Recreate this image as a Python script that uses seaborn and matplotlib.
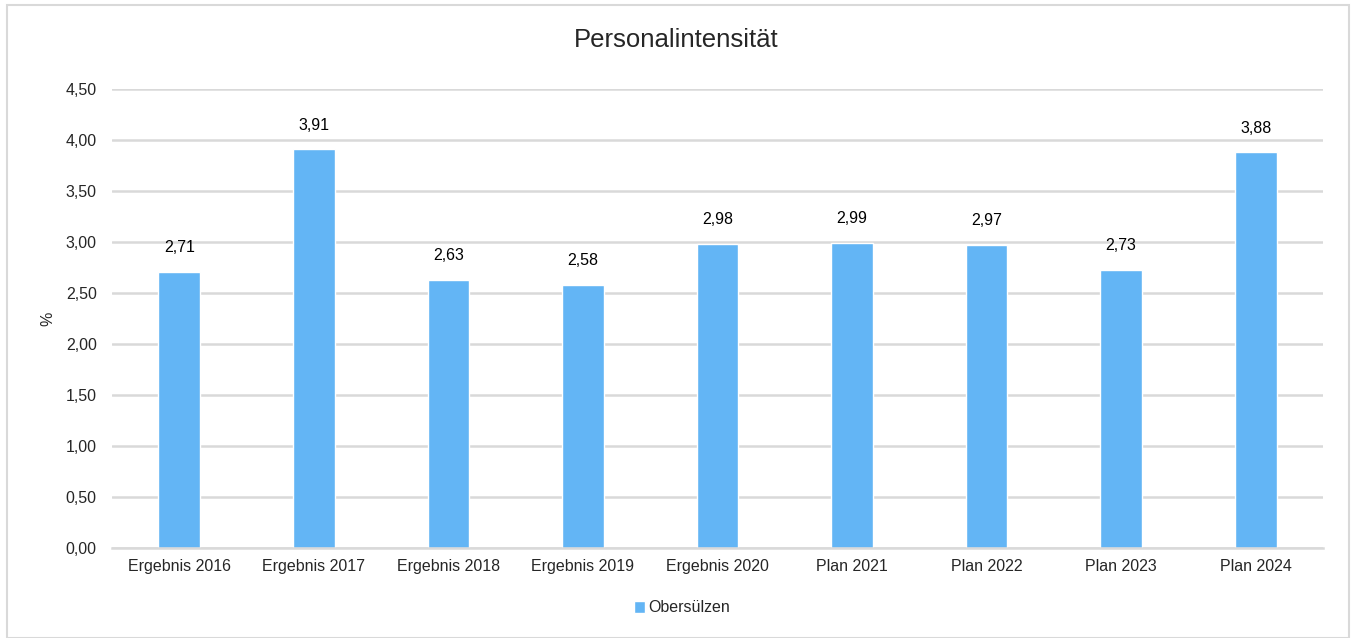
import matplotlib
matplotlib.use("Agg")
import matplotlib.pyplot as plt
import seaborn as sns
import pandas as pd
from matplotlib.patches import Rectangle

categories = ["Ergebnis 2016", "Ergebnis 2017", "Ergebnis 2018", "Ergebnis 2019",
              "Ergebnis 2020", "Plan 2021", "Plan 2022", "Plan 2023", "Plan 2024"]
values = [2.71, 3.91, 2.63, 2.58, 2.98, 2.99, 2.97, 2.73, 3.88]
series_name = "Obersülzen"
y_ticks = [0.0, 0.5, 1.0, 1.5, 2.0, 2.5, 3.0, 3.5, 4.0, 4.5]

bar_color = "#63B5F5"
grid_color = "#D9D9D9"
text_color = "#000000"

sns.set_style("white")
plt.rcParams['font.family'] = ['Liberation Sans', 'DejaVu Sans']

df = pd.DataFrame({"Kategorie": categories, "Wert": values})

fig = plt.figure(figsize=(13.53, 6.38), dpi=100)
ax = fig.add_axes([112 / 1353, 1 - 548 / 638, (1323 - 112) / 1353, (548 - 89) / 638])

sns.barplot(data=df, x="Kategorie", y="Wert", color=bar_color, width=0.31,
            saturation=1, ax=ax, label=series_name)

ax.set_ylim(0, 4.5)
ax.set_yticks(y_ticks)
ax.set_yticklabels([f"{t:.2f}".replace(".", ",") for t in y_ticks], fontsize=11.5)
ax.set_xlim(-0.5, len(categories) - 0.5)
ax.tick_params(axis="x", labelsize=11.5, length=0, pad=8)
ax.tick_params(axis="y", length=0, pad=11)
ax.yaxis.grid(True, color=grid_color, linewidth=1.8)
ax.set_axisbelow(True)
for s in ["top", "right", "left"]:
    ax.spines[s].set_visible(False)
ax.spines["bottom"].set_color(grid_color)
ax.spines["bottom"].set_linewidth(1.8)

ax.set_xlabel("")
ax.set_ylabel("%", fontsize=11.5)
ax.yaxis.set_label_coords((55 - 112) / 1211, 0.5)

for p, v in zip(ax.patches, values):
    ax.annotate(f"{v:.2f}".replace(".", ","), (p.get_x() + p.get_width() / 2, v),
                xytext=(0, 12), textcoords="offset points", ha="center", va="bottom",
                fontsize=11.5, color=text_color)

fig.text(0.5, 1 - 40 / 638, "Personalintensität", ha="center", va="center", fontsize=18.5)

leg = ax.legend(loc="center", bbox_to_anchor=((682 - 112) / 1211, (548 - 608) / (548 - 89)),
                frameon=False, fontsize=11.5, handlelength=0.7, handleheight=0.7,
                handletextpad=0.2)

fig.patches.append(Rectangle((7 / 1353, 0), 1342 / 1353, 1 - 5 / 638,
                             transform=fig.transFigure, fill=False,
                             edgecolor="#D9D9D9", linewidth=1.5))

fig.savefig("out.png", dpi=100)
